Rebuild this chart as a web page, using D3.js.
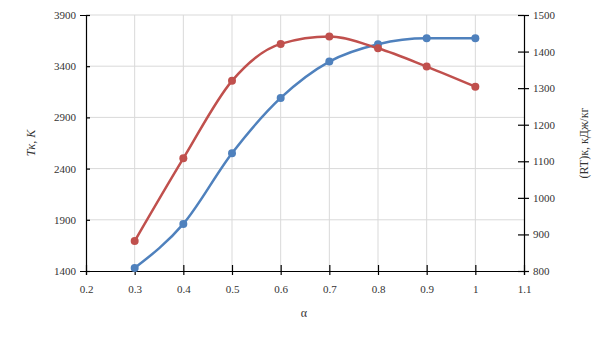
<!DOCTYPE html>
<html><head><meta charset="utf-8">
<script src="https://cdn.jsdelivr.net/npm/d3@7"></script>
<style>body{margin:0;background:#fff}svg{display:block}text{font-family:"Liberation Serif","DejaVu Serif",serif;fill:#333}</style>
</head><body>
<svg id="c" width="605" height="340"></svg>
<script>
const alpha = [0.3, 0.4, 0.5, 0.6, 0.7, 0.8, 0.9, 1.0];
const tk = [1430, 1860, 2550, 3090, 3445, 3615, 3672, 3672];
const rt = [882, 1108, 1320, 1421, 1441, 1409, 1359, 1304];
const xTicks = [0.2, 0.3, 0.4, 0.5, 0.6, 0.7, 0.8, 0.9, 1, 1.1];
const yLeftTicks = [1400, 1900, 2400, 2900, 3400, 3900];
const yRightTicks = [800, 900, 1000, 1100, 1200, 1300, 1400, 1500];

const svg = d3.select("#c");
const L = 86, R = 524, T = 15, B = 271;
const x = d3.scaleLinear().domain([0.2, 1.1]).range([L, R]);
const yL = d3.scaleLinear().domain([1400, 3900]).range([B, T]);
const yR = d3.scaleLinear().domain([800, 1500]).range([B, T]);

const grid = svg.append("g");
grid.selectAll("line.h").data(yLeftTicks.slice(1)).join("line")
  .attr("x1", L).attr("x2", R).attr("y1", d => yL(d)).attr("y2", d => yL(d))
  .attr("stroke", "#d9d9d9").attr("stroke-width", 1);
grid.selectAll("line.v").data(xTicks.slice(1, -1)).join("line")
  .attr("x1", d => x(d)).attr("x2", d => x(d)).attr("y1", T).attr("y2", B)
  .attr("stroke", "#d9d9d9").attr("stroke-width", 1);

function styleAxis(g) {
  g.attr("font-family", null).attr("font-size", null);
  g.select(".domain").attr("stroke", "#000").attr("stroke-width", 1.2);
  g.selectAll(".tick line").attr("stroke", "#000").attr("stroke-width", 1.2);
  g.selectAll(".tick text").style("font-size", "11px").attr("fill", "#333");
}
const fmtX = d => String(+d.toFixed(2));
const fmtY = d3.format("d");
const gx = svg.append("g").attr("transform", `translate(0,${B})`)
  .call(d3.axisBottom(x).tickValues(xTicks).tickFormat(fmtX).tickSizeOuter(0).tickSize(4).tickPadding(10));
gx.selectAll(".tick line").attr("y1", -6);
styleAxis(gx);
const gl = svg.append("g").attr("transform", `translate(${L},0)`)
  .call(d3.axisLeft(yL).tickValues(yLeftTicks).tickFormat(fmtY).tickSizeOuter(0).tickSize(6).tickPadding(4));
gl.selectAll(".tick line").attr("x2", 4);
styleAxis(gl);
const gr = svg.append("g").attr("transform", `translate(${R},0)`)
  .call(d3.axisRight(yR).tickValues(yRightTicks).tickFormat(fmtY).tickSizeOuter(0).tickSize(5).tickPadding(4));
gr.selectAll(".tick line").attr("x1", -6);
styleAxis(gr);

const blue = "#4f81bd", red = "#c0504d";
const lineL = d3.line().x((d, i) => x(alpha[i])).y(d => yL(d)).curve(d3.curveMonotoneX);
const lineR = d3.line().x((d, i) => x(alpha[i])).y(d => yR(d)).curve(d3.curveMonotoneX);
svg.append("path").datum(tk).attr("d", lineL).attr("fill", "none").attr("stroke", blue).attr("stroke-width", 2.5);
svg.append("path").datum(rt).attr("d", lineR).attr("fill", "none").attr("stroke", red).attr("stroke-width", 2.5);
svg.selectAll("circle.b").data(tk).join("circle").attr("cx", (d, i) => x(alpha[i])).attr("cy", d => yL(d)).attr("r", 4).attr("fill", blue);
svg.selectAll("circle.r").data(rt).join("circle").attr("cx", (d, i) => x(alpha[i])).attr("cy", d => yR(d)).attr("r", 4).attr("fill", red);

svg.append("text").attr("transform", "translate(35,143) rotate(-90)").attr("text-anchor", "middle")
  .style("font-size", "12px").style("font-style", "italic").text("Tк, К");
svg.append("text").attr("transform", "translate(588,143) rotate(-90)").attr("text-anchor", "middle")
  .style("font-size", "12px").text("(RT)к, кДж/кг");
svg.append("text").attr("x", 304).attr("y", 317).attr("text-anchor", "middle")
  .style("font-size", "12px").text("α");
</script>
</body></html>
